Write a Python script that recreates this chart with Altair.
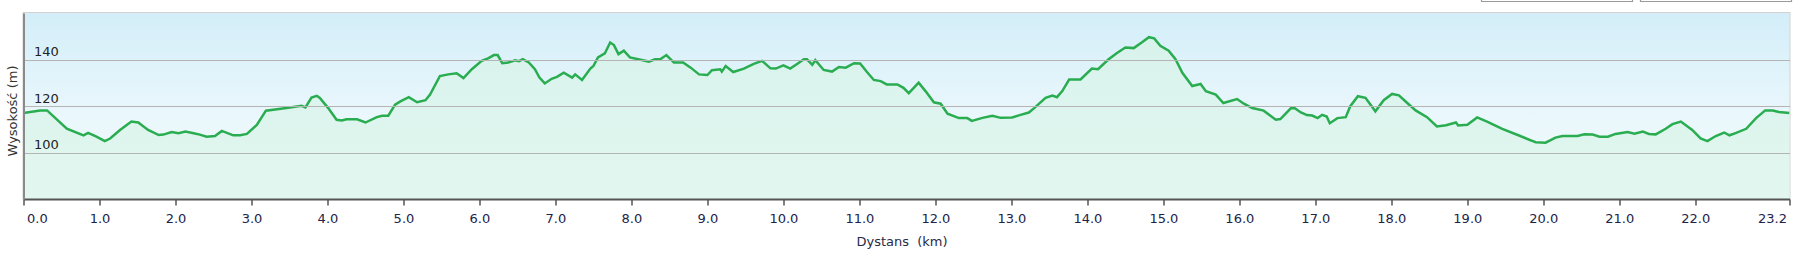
import altair as alt
import pandas as pd

# distance along route (km)
km = [0.00, 0.22, 0.31, 0.57, 0.79, 0.85, 0.96, 1.07, 1.14, 1.27, 1.42, 1.51, 1.64, 1.78, 1.84, 1.95,
      2.04, 2.13, 2.24, 2.32, 2.41, 2.52, 2.61, 2.76, 2.85, 2.94, 3.07, 3.19, 3.46, 3.66, 3.71, 3.79,
      3.86, 3.90, 4.01, 4.12, 4.19, 4.25, 4.39, 4.50, 4.65, 4.72, 4.80, 4.89, 4.96, 5.07, 5.18, 5.29,
      5.35, 5.48, 5.59, 5.70, 5.79, 5.90, 6.03, 6.12, 6.19, 6.24, 6.30, 6.38, 6.47, 6.52, 6.57, 6.65,
      6.73, 6.79, 6.86, 6.95, 7.02, 7.11, 7.22, 7.26, 7.35, 7.46, 7.50, 7.56, 7.65, 7.72, 7.77, 7.83,
      7.90, 7.98, 8.09, 8.23, 8.31, 8.38, 8.46, 8.56, 8.68, 8.78, 8.89, 9.00, 9.06, 9.17, 9.19, 9.24,
      9.34, 9.48, 9.61, 9.72, 9.83, 9.90, 10.00, 10.09, 10.18, 10.27, 10.31, 10.38, 10.42, 10.53, 10.64,
      10.73, 10.82, 10.93, 11.01, 11.10, 11.19, 11.28, 11.36, 11.50, 11.58, 11.65, 11.78, 11.87, 11.98,
      12.07, 12.16, 12.31, 12.42, 12.48, 12.62, 12.75, 12.86, 13.01, 13.12, 13.23, 13.30, 13.45, 13.54,
      13.60, 13.67, 13.76, 13.91, 14.06, 14.14, 14.28, 14.39, 14.50, 14.61, 14.72, 14.81, 14.88, 14.96,
      15.07, 15.16, 15.25, 15.38, 15.49, 15.56, 15.69, 15.79, 15.97, 16.06, 16.17, 16.32, 16.48, 16.54,
      16.68, 16.73, 16.81, 16.89, 16.96, 17.03, 17.09, 17.15, 17.19, 17.29, 17.40, 17.46, 17.56, 17.66,
      17.79, 17.90, 18.01, 18.10, 18.21, 18.32, 18.47, 18.60, 18.72, 18.85, 18.88, 19.00, 19.13, 19.26,
      19.46, 19.68, 19.90, 20.03, 20.16, 20.25, 20.45, 20.54, 20.65, 20.74, 20.85, 20.95, 21.11, 21.20,
      21.31, 21.39, 21.48, 21.61, 21.70, 21.81, 21.96, 22.07, 22.16, 22.27, 22.38, 22.45, 22.53, 22.67,
      22.80, 22.92, 23.02, 23.10, 23.24]

# elevation (m)
elev = [117.0, 118.1, 118.1, 110.2, 107.4, 108.4, 106.8, 104.9, 106.0, 109.7, 113.3, 112.9, 109.7, 107.5, 107.7, 108.8,
        108.3, 109.0, 108.3, 107.7, 106.8, 107.1, 109.3, 107.4, 107.4, 108.0, 111.9, 118.0, 119.1, 120.1, 119.4, 123.6,
        124.4, 123.5, 119.1, 114.1, 113.8, 114.3, 114.3, 112.9, 115.2, 115.8, 115.8, 120.6, 122.0, 123.8, 121.6, 122.5,
        124.9, 132.9, 133.6, 134.1, 132.0, 135.8, 139.4, 140.6, 141.9, 141.9, 138.4, 138.7, 139.7, 139.3, 140.1, 138.7,
        135.8, 132.2, 129.7, 131.7, 132.5, 134.3, 132.2, 133.6, 131.2, 136.1, 137.2, 140.9, 142.6, 147.3, 146.2, 142.3,
        143.8, 140.9, 140.1, 139.1, 140.1, 140.1, 141.9, 138.7, 138.7, 136.5, 133.6, 133.3, 135.4, 135.8, 134.8, 137.2,
        134.6, 136.1, 138.1, 139.4, 136.2, 136.1, 137.5, 136.1, 138.1, 140.1, 140.1, 137.7, 139.7, 135.5, 134.8,
        136.8, 136.5, 138.4, 138.3, 134.6, 131.2, 130.7, 129.3, 129.3, 127.8, 125.5, 130.0, 126.4, 121.6,
        121.0, 116.7, 114.8, 114.8, 113.6, 114.9, 115.8, 114.9, 115.1, 116.2, 117.2, 119.1, 123.5, 124.5,
        123.8, 126.4, 131.4, 131.4, 136.1, 135.8, 140.1, 142.8, 145.2, 144.9, 147.4, 149.6, 149.1, 145.9,
        143.8, 140.1, 134.3, 128.6, 129.5, 126.4, 124.9, 121.3, 123.0, 121.0, 119.1, 118.0, 114.1, 114.4,
        119.1, 119.0, 117.2, 116.1, 115.9, 114.8, 116.2, 115.5, 112.6, 114.8, 115.2, 119.9, 124.2, 123.5,
        117.7, 122.5, 125.2, 124.6, 121.3, 118.1, 115.2, 111.2, 111.7, 112.9, 111.6, 111.9, 115.1, 113.3,
        110.2, 107.3, 104.4, 104.2, 106.4, 107.1, 107.1, 107.8, 107.7, 106.8, 106.8, 108.0, 108.8, 108.1,
        109.0, 108.0, 107.8, 110.2, 112.2, 113.3, 109.7, 106.1, 104.9, 107.1, 108.6, 107.4, 108.3, 110.2,
        114.8, 118.1, 118.1, 117.4, 117.0]

total_km = 23.24
x_ticks = list(range(0, 23)) + [total_km]
y_ticks = [100, 120, 140]
y_domain = [80, 160]

W = 1766
H = 186

df = pd.DataFrame({"km": km, "elev": elev})
one = pd.DataFrame({"a": [0]})

xscale = alt.Scale(domain=[0, total_km], nice=False, zero=False)
yscale = alt.Scale(domain=y_domain, nice=False, zero=False)

bg = alt.Chart(one).mark_rect(
    fill=alt.Gradient(
        gradient="linear", x1=0, x2=0, y1=0, y2=1,
        stops=[alt.GradientStop(color="#d3eef9", offset=0),
               alt.GradientStop(color="#eaf7fc", offset=0.55),
               alt.GradientStop(color="#f1fbf8", offset=1)]),
).encode(x=alt.value(0), x2=alt.value(W), y=alt.value(0), y2=alt.value(H))

xaxis = alt.Axis(
    values=x_ticks, labelExpr="format(datum.value, '.1f')", grid=False,
    domainColor="#555555", domainWidth=2, tickColor="#555555", tickSize=6, tickWidth=1.5,
    labelFont="DejaVu Sans", labelFontSize=13, labelColor="#23234a",
    labelFlush=True, labelFlushOffset=-3, labelOverlap=False,
    labelBaseline="alphabetic", labelPadding=17,
    title="Dystans\u00a0 (km)", titleFont="DejaVu Sans", titleFontSize=13,
    titleFontWeight="normal", titleColor="#2a2a44",
    titleX=878, titleY=46, titleBaseline="alphabetic", titleAlign="center",
    zindex=1,
)
yaxis = alt.Axis(
    values=y_ticks, grid=True, gridColor="#b4b4b4", gridWidth=1.2,
    domainColor="#8a8a8a", domainWidth=2, ticks=False, tickSize=0,
    labelAlign="left", labelPadding=-10, labelBaseline="alphabetic", labelOffset=-4,
    labelFont="DejaVu Sans", labelFontSize=13, labelColor="#222222",
    title="Wysokość (m)", titleFont="DejaVu Sans", titleFontSize=13,
    titleFontWeight="normal", titleColor="#333333",
    titleX=-11.5, titleY=97.5, titleAngle=270, titleBaseline="middle", titleAlign="center",
    zindex=1,
)

area = alt.Chart(df).mark_area(
    fill=alt.Gradient(
        gradient="linear", x1=0, x2=0, y1=0, y2=1,
        stops=[alt.GradientStop(color="#d8f3ec", offset=0),
               alt.GradientStop(color="#eefbf4", offset=1)]),
    clip=True,
).encode(
    x=alt.X("km:Q", scale=xscale, axis=xaxis),
    y=alt.Y("elev:Q", scale=yscale, axis=yaxis),
)

line = alt.Chart(df).mark_line(color="#29ad50", strokeWidth=2.5, clip=True).encode(
    x=alt.X("km:Q", scale=xscale),
    y=alt.Y("elev:Q", scale=yscale),
)

btn1 = alt.Chart(one).mark_rect(fill="white", stroke="#9a9a9a", strokeWidth=1.2).encode(
    x=alt.value(1458), x2=alt.value(1609), y=alt.value(-40), y2=alt.value(-11.5))
btn2 = alt.Chart(one).mark_rect(fill="white", stroke="#9a9a9a", strokeWidth=1.2).encode(
    x=alt.value(1617), x2=alt.value(1768), y=alt.value(-40), y2=alt.value(-11.5))

chart = alt.layer(bg, area, line, btn1, btn2).properties(
    width=W, height=H,
    autosize=alt.AutoSizeParams(type="none"),
    padding={"left": 23.5, "top": 13, "right": 5.5, "bottom": 56},
    background="white",
).configure_view(stroke="#d2d2d2", strokeWidth=2)

chart.save("out.html", embed_options={"renderer": "svg", "actions": False})
